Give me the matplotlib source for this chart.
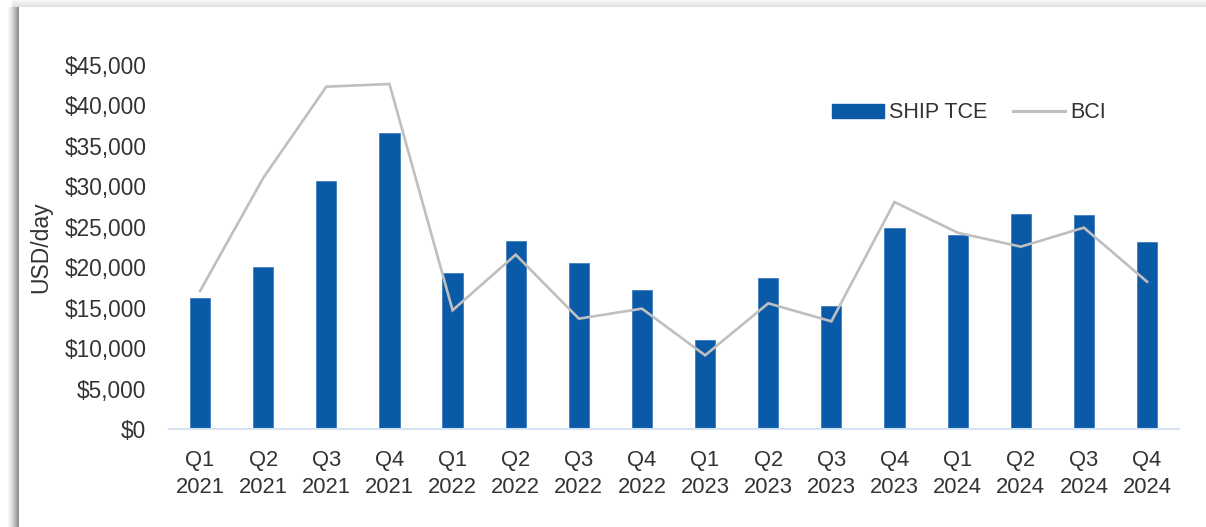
import numpy as np
import matplotlib
matplotlib.use("Agg")
import matplotlib.pyplot as plt
from matplotlib.ticker import FuncFormatter, MultipleLocator
from matplotlib.patches import Patch
from matplotlib.lines import Line2D

# ---- data ----
quarters = ["Q1", "Q2", "Q3", "Q4"] * 4
years = ["2021"] * 4 + ["2022"] * 4 + ["2023"] * 4 + ["2024"] * 4
tick_labels = [f"{q}\n{y}" for q, y in zip(quarters, years)]
ship_tce = [16160, 19990, 30700, 36550, 19300, 23240, 20520, 17220,
            11000, 18630, 15250, 24850, 24020, 26580, 26460, 23160]
bci = [17060, 31030, 42320, 42650, 14680, 21550, 13640, 14880,
       9110, 15540, 13310, 28060, 24270, 22540, 24890, 18210]

W, H = 1206, 527
plt.rcParams['font.family'] = ['Liberation Sans', 'DejaVu Sans']
text_color = "#333333"
bar_color = "#0B5AA8"
line_color = "#BFBFBF"

fig = plt.figure(figsize=(W / 100, H / 100), dpi=100)

# background panel with shadow (decoration)
bg = np.ones((H, W, 3))
for i, c in enumerate(range(8, 19)):
    v = 0.97 - 0.42 * (i / 10) ** 1.3
    bg[7:, c, :] = v
for i, r in enumerate(range(0, 7)):
    v = 0.97 - 0.09 * (i / 6)
    bg[r, 12:, :] = np.minimum(bg[r, 12:, :], v)
bgax = fig.add_axes([0, 0, 1, 1], zorder=-5)
bgax.imshow(bg, aspect='auto', interpolation='nearest')
bgax.axis('off')

left, right = 168.5, 1178.6
bottom, top = 429, 65
ax = fig.add_axes([left / W, 1 - bottom / H, (right - left) / W, (bottom - top) / H])
ax.patch.set_alpha(0)

x = np.arange(len(ship_tce))
ax.bar(x, ship_tce, width=0.32, color=bar_color, edgecolor="#3F7DC0",
       linewidth=0.6, zorder=2)
ax.plot(x, bci, color=line_color, linewidth=1.9, zorder=3,
        solid_joinstyle='miter')

ax.set_xlim(-0.5, len(ship_tce) - 0.5)
ax.set_ylim(0, 45000)
ax.yaxis.set_major_locator(MultipleLocator(5000))
ax.yaxis.set_major_formatter(FuncFormatter(lambda v, p: f"${v:,.0f}"))
ax.set_xticks(x)
ax.set_xticklabels(tick_labels)

for s in ["top", "right", "left"]:
    ax.spines[s].set_visible(False)
ax.spines["bottom"].set_color("#D5E3F5")
ax.spines["bottom"].set_linewidth(1.5)

ax.tick_params(axis='y', length=0, pad=16, labelsize=16.3, labelcolor=text_color)
ax.tick_params(axis='x', length=0, pad=15, labelsize=15.8, labelcolor=text_color)
for lbl in ax.get_xticklabels():
    lbl.set_linespacing(1.4)

ax.set_ylabel("USD/day", fontsize=16.5, color=text_color)
ax.yaxis.set_label_coords(-(left - 52) / (right - left), 0.5)

handles = [Patch(facecolor=bar_color, edgecolor=bar_color),
           Line2D([0], [0], color=line_color, linewidth=2.2)]
fig.legend(handles, ["SHIP TCE", "BCI"], loc='center left',
           bbox_to_anchor=(832 / W, 1 - 113 / H), ncol=2, frameon=False,
           fontsize=15.5, labelcolor=text_color, borderpad=0, borderaxespad=0,
           handlelength=2.4, handleheight=0.65, handletextpad=0.25,
           columnspacing=1.2)

fig.savefig("out.png", dpi=100)
